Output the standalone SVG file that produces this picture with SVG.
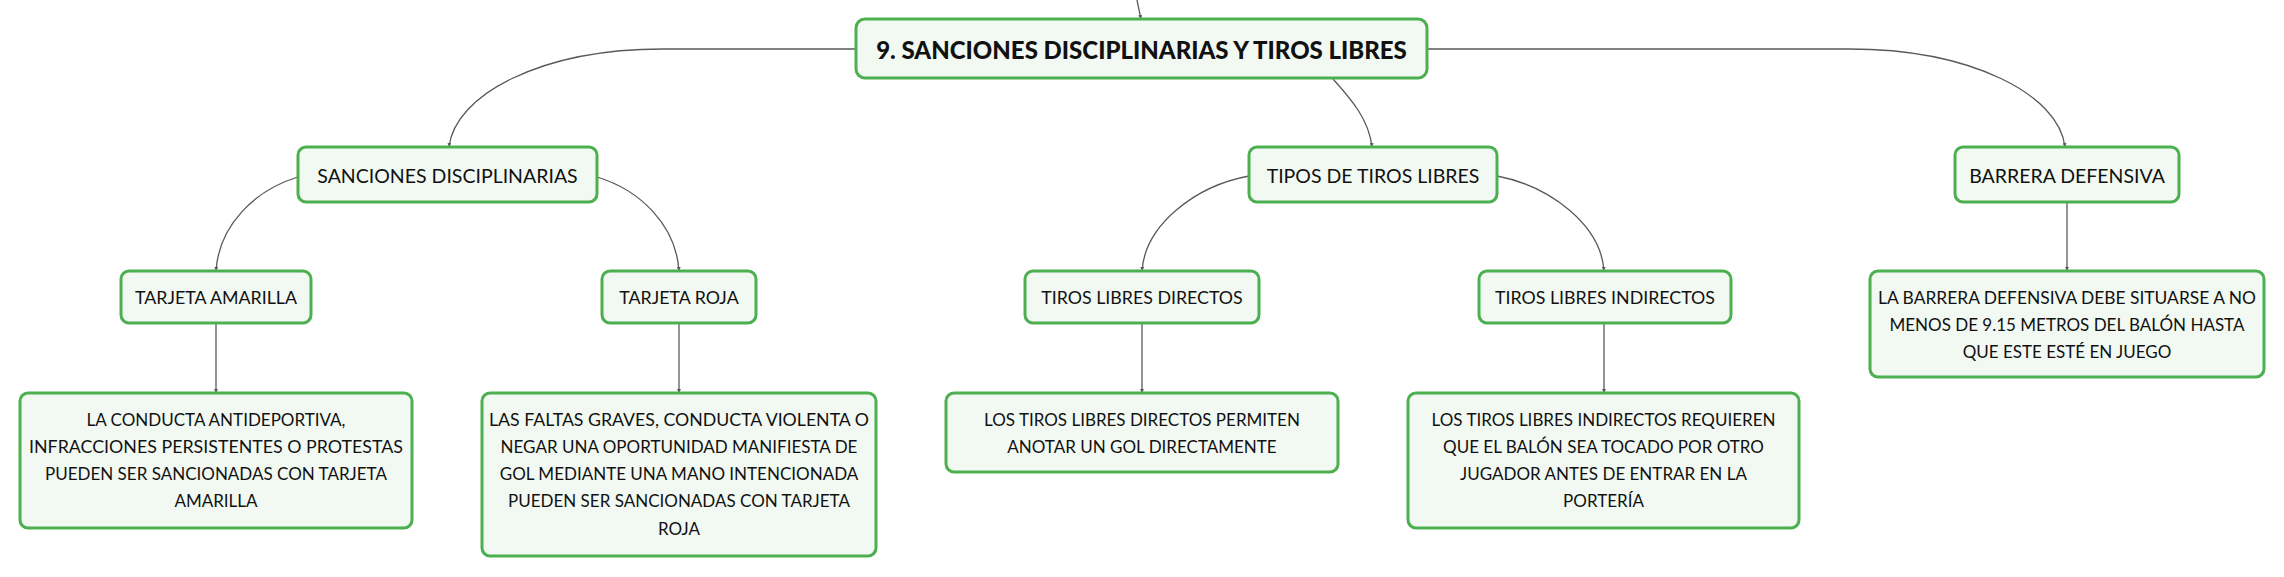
<svg xmlns="http://www.w3.org/2000/svg" width="2284" height="577" viewBox="0 0 2284 577">
<defs>
<style>
.box{fill:#f1f9f2;stroke:#4caf50;stroke-width:3}
.t{font-family:Lato,"Noto Sans","DejaVu Sans",sans-serif;fill:#111;text-anchor:middle;dominant-baseline:central}
.t1{font-size:19.5px}
.t2{font-size:17.8px}
.t3{font-size:17px}
.t0{font-size:24px;font-weight:900}
.c{fill:none;stroke:#5a5a5a;stroke-width:1.3;marker-end:url(#ah)}
</style>
<marker id="ah" viewBox="0 0 6 6" refX="6" refY="3" markerWidth="4" markerHeight="4" markerUnits="userSpaceOnUse" orient="auto">
<path d="M0,0 L6,3 L0,6 z" fill="#5a5a5a"/>
</marker>
</defs>
<rect width="2284" height="577" fill="#ffffff"/>
<g id="connectors">
<path class="c" d="M1137,0 Q1139,10 1141,19"/>
<path class="c" d="M857,49 L663,49 C540,49 455,95 449,147"/>
<path class="c" d="M1427,49 L1849,49 C1972,49 2059,95 2065,147"/>
<path class="c" d="M1333,79 C1352,100 1369,120 1372,147"/>
<path class="c" d="M298,177 C255,190 219,225 216,271"/>
<path class="c" d="M597,177 C640,190 676,225 679,271"/>
<path class="c" d="M1249,176 C1195,186 1145,225 1142,271"/>
<path class="c" d="M1497,176 C1550,186 1601,225 1604,271"/>
<path class="c" d="M2067,202 L2067,271"/>
<path class="c" d="M216,323 L216,393"/>
<path class="c" d="M679,323 L679,393"/>
<path class="c" d="M1142,323 L1142,393"/>
<path class="c" d="M1604,323 L1604,393"/>
</g>
<g id="root">
<rect class="box" x="856" y="19" width="571" height="59" rx="9"/>
<text class="t t0" x="1141.5" y="49">9. SANCIONES DISCIPLINARIAS Y TIROS LIBRES</text>
</g>
<g id="sanciones">
<rect class="box" x="298" y="147" width="299" height="55" rx="8"/>
<text class="t t1" x="447.5" y="175">SANCIONES DISCIPLINARIAS</text>
</g>
<g id="tipos">
<rect class="box" x="1249" y="147" width="248" height="55" rx="8"/>
<text class="t t1" x="1373" y="175">TIPOS DE TIROS LIBRES</text>
</g>
<g id="barrera">
<rect class="box" x="1955" y="147" width="224" height="55" rx="8"/>
<text class="t t1" x="2067" y="175">BARRERA DEFENSIVA</text>
</g>
<g id="amarilla">
<rect class="box" x="121" y="271" width="190" height="52" rx="8"/>
<text class="t t2" x="216" y="297">TARJETA AMARILLA</text>
</g>
<g id="roja">
<rect class="box" x="602" y="271" width="154" height="52" rx="8"/>
<text class="t t2" x="679" y="297">TARJETA ROJA</text>
</g>
<g id="directos">
<rect class="box" x="1025" y="271" width="234" height="52" rx="8"/>
<text class="t t2" x="1142" y="297">TIROS LIBRES DIRECTOS</text>
</g>
<g id="indirectos">
<rect class="box" x="1479" y="271" width="252" height="52" rx="8"/>
<text class="t t2" x="1605" y="297">TIROS LIBRES INDIRECTOS</text>
</g>
<g id="amarilla-desc">
<rect class="box" x="20" y="393" width="392" height="135" rx="8"/>
<text class="t t3" x="216" y="419">LA CONDUCTA ANTIDEPORTIVA,</text>
<text class="t t3" x="216" y="446" textLength="374" lengthAdjust="spacingAndGlyphs">INFRACCIONES PERSISTENTES O PROTESTAS</text>
<text class="t t3" x="216" y="473">PUEDEN SER SANCIONADAS CON TARJETA</text>
<text class="t t3" x="216" y="500">AMARILLA</text>
</g>
<g id="roja-desc">
<rect class="box" x="482" y="393" width="394" height="163" rx="8"/>
<text class="t t3" x="679" y="419" textLength="380" lengthAdjust="spacingAndGlyphs">LAS FALTAS GRAVES, CONDUCTA VIOLENTA O</text>
<text class="t t3" x="679" y="446">NEGAR UNA OPORTUNIDAD MANIFIESTA DE</text>
<text class="t t3" x="679" y="473">GOL MEDIANTE UNA MANO INTENCIONADA</text>
<text class="t t3" x="679" y="500">PUEDEN SER SANCIONADAS CON TARJETA</text>
<text class="t t3" x="679" y="528">ROJA</text>
</g>
<g id="directos-desc">
<rect class="box" x="946" y="393" width="392" height="79" rx="8"/>
<text class="t t3" x="1142" y="419">LOS TIROS LIBRES DIRECTOS PERMITEN</text>
<text class="t t3" x="1142" y="446">ANOTAR UN GOL DIRECTAMENTE</text>
</g>
<g id="indirectos-desc">
<rect class="box" x="1408" y="393" width="391" height="135" rx="8"/>
<text class="t t3" x="1603.5" y="419">LOS TIROS LIBRES INDIRECTOS REQUIEREN</text>
<text class="t t3" x="1603.5" y="446">QUE EL BALÓN SEA TOCADO POR OTRO</text>
<text class="t t3" x="1603.5" y="473">JUGADOR ANTES DE ENTRAR EN LA</text>
<text class="t t3" x="1603.5" y="500">PORTERÍA</text>
</g>
<g id="barrera-desc">
<rect class="box" x="1870" y="271" width="394" height="106" rx="8"/>
<text class="t t3" x="2067" y="297" textLength="378" lengthAdjust="spacingAndGlyphs">LA BARRERA DEFENSIVA DEBE SITUARSE A NO</text>
<text class="t t3" x="2067" y="324">MENOS DE 9.15 METROS DEL BALÓN HASTA</text>
<text class="t t3" x="2067" y="351">QUE ESTE ESTÉ EN JUEGO</text>
</g>
</svg>
